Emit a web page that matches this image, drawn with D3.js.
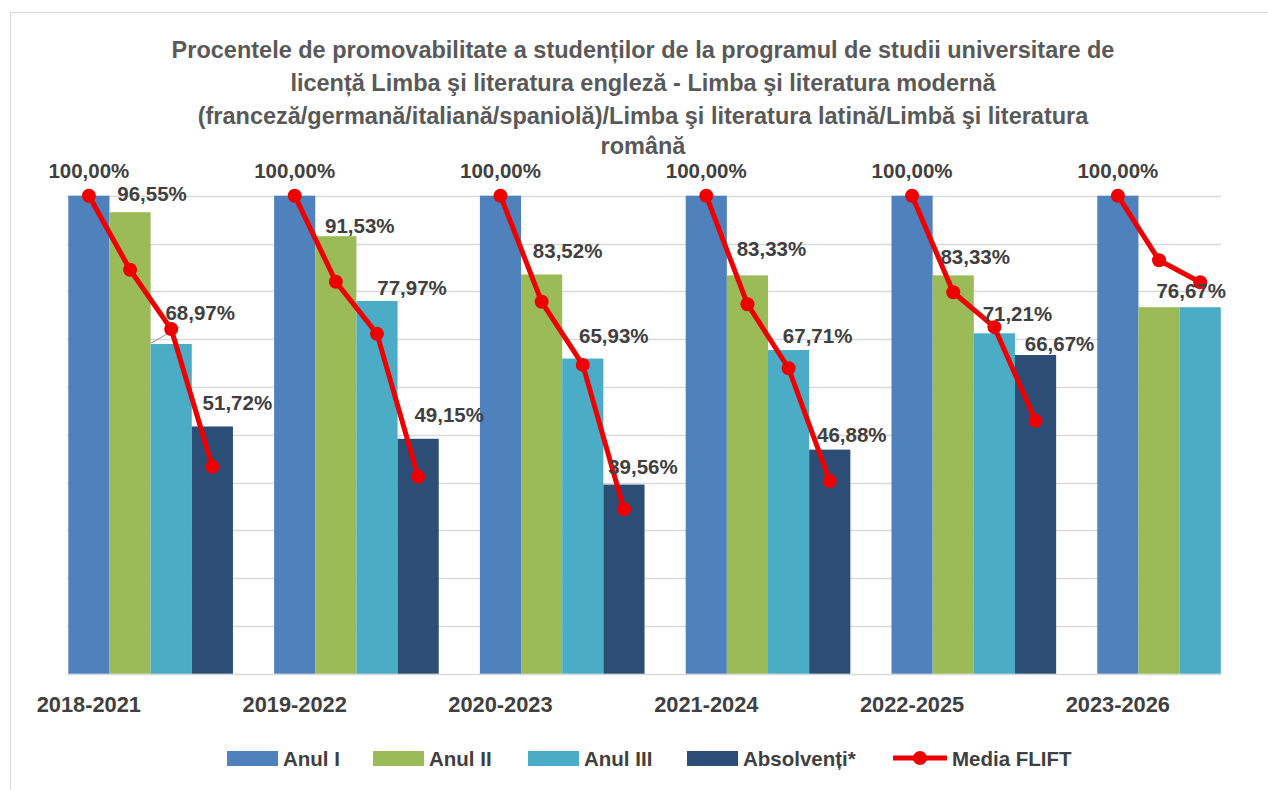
<!DOCTYPE html>
<html>
<head>
<meta charset="utf-8">
<script src="https://cdn.jsdelivr.net/npm/d3@7/dist/d3.min.js"></script>
<style>
  html, body { margin: 0; padding: 0; background: #fff; }
  svg { display: block; }
  text { font-family: "Liberation Sans", Arial, sans-serif; font-weight: bold; }
</style>
</head>
<body>
<svg id="chart" width="1268" height="790"></svg>
<script>
// ---------------- DATA ----------------
const titleLines = [
  "Procentele de promovabilitate a studenților de la programul de studii universitare de",
  "licență Limba şi literatura engleză - Limba şi literatura modernă",
  "(franceză/germană/italiană/spaniolă)/Limba şi literatura latină/Limbă şi literatura",
  "română"
];
const categories = ["2018-2021", "2019-2022", "2020-2023", "2021-2024", "2022-2025", "2023-2026"];
const seriesNames = ["Anul I", "Anul II", "Anul III", "Absolvenți*"];
const anulI      = [100, 100, 100, 100, 100, 100];
const anulII     = [96.55, 91.53, 83.52, 83.33, 83.33, 76.67];
const anulIII    = [68.97, 77.97, 65.93, 67.71, 71.21, 76.67];
const absolventi = [51.72, 49.15, 39.56, 46.88, 66.67, null];
const lineName   = "Media FLIFT";
const mediaFLIFT = [
  [100, 84.5, 72.1, 43.3],
  [100, 82.0, 71.1, 41.2],
  [100, 77.8, 64.6, 34.4],
  [100, 77.3, 63.9, 40.3],
  [100, 79.8, 72.5, 52.9],
  [100, 86.5, 81.9]
];
const yTicks = [0, 10, 20, 30, 40, 50, 60, 70, 80, 90, 100];

// ---------------- LAYOUT (label offsets from bar centre / top) ----------------
const labelDx = [
  [0, 0, 0, 0, 0, 0],
  [22, 24, 26, 24, 22, null],
  [29, 35, 31, 29, 23, -9],
  [25, 31, 19, 22, 24, null]
];
const labelDy = [
  [-25, -25, -25, -25, -25, -25],
  [-19, -11, -24, -27, -19, null],
  [-32, -14, -23, -15, -20, -17],
  [-24, -24, -18, -15, -12, null]
];
const colors = ["#4F81BD", "#9BBB59", "#4BACC6", "#2C4D75"];
const lineColor = "#EE0000";

const allSeries = [anulI, anulII, anulIII, absolventi];
const fmt = v => v.toFixed(2).replace(".", ",") + "%";

const svg = d3.select("#chart");

// chart border
svg.append("rect").attr("x", 10.5).attr("y", 12.5).attr("width", 1280).attr("height", 800)
  .attr("fill", "#fff").attr("stroke", "#d9d9d9").attr("stroke-width", 1);

// title
const titleY = [58, 91, 124, 154];
svg.append("g").selectAll("text").data(titleLines).join("text")
  .attr("x", 643).attr("y", (d, i) => titleY[i])
  .attr("text-anchor", "middle")
  .attr("font-size", 23.5)
  .attr("fill", "#595959")
  .text(d => d);

// scales
const plotLeft = 68.3, plotRight = 1221, plotBottom = 673.7, plotTop = 195.7;
const x0 = d3.scaleBand().domain(categories)
  .range([plotLeft, plotLeft + 205.8 * 5.8]).paddingInner(0.2).paddingOuter(0);
const x1 = d3.scaleBand().domain(d3.range(4)).range([0, x0.bandwidth()]).padding(0);
const y = d3.scaleLinear().domain([0, 100]).range([plotBottom, plotTop]);

// gridlines
svg.append("g").selectAll("line").data(yTicks).join("line")
  .attr("x1", plotLeft - 1).attr("x2", plotRight)
  .attr("y1", d => Math.round(y(d)) + 0.5).attr("y2", d => Math.round(y(d)) + 0.5)
  .attr("stroke", "#d9d9d9").attr("stroke-width", 1.6);

// bars
const barData = [];
allSeries.forEach((arr, s) => arr.forEach((v, c) => {
  if (v !== null) barData.push({ s, c, v });
}));
svg.append("g").selectAll("rect").data(barData).join("rect")
  .attr("x", d => x0(categories[d.c]) + x1(d.s))
  .attr("width", x1.bandwidth())
  .attr("y", d => y(d.v))
  .attr("height", d => y(0) - y(d.v))
  .attr("fill", d => colors[d.s]);

// category axis labels
svg.append("g").selectAll("text").data(categories).join("text")
  .attr("x", d => x0(d) + x1(0) + x1.bandwidth() / 2)
  .attr("y", 712)
  .attr("text-anchor", "middle")
  .attr("font-size", 21.8)
  .attr("fill", "#404040")
  .text(d => d);

// leader line for 68,97%
svg.append("line")
  .attr("x1", x0(categories[0]) + x1(2) + 0.5).attr("y1", y(anulIII[0]) - 1)
  .attr("x2", x0(categories[0]) + x1(2) + 29).attr("y2", y(anulIII[0]) - 17)
  .attr("stroke", "#a6a6a6").attr("stroke-width", 1.3);

// Media FLIFT lines
const lineGen = d3.line()
  .x(d => d.cx)
  .y(d => y(d.v));
const lineGroups = mediaFLIFT.map((vals, c) =>
  vals.map((v, s) => ({ cx: x0(categories[c]) + x1(s) + x1.bandwidth() / 2, v })));
const lg = svg.append("g");
lg.selectAll("path").data(lineGroups).join("path")
  .attr("d", lineGen)
  .attr("fill", "none").attr("stroke", lineColor).attr("stroke-width", 5)
  .attr("stroke-linejoin", "round");
lg.selectAll("circle").data(lineGroups.flat()).join("circle")
  .attr("cx", d => d.cx).attr("cy", d => y(d.v)).attr("r", 7)
  .attr("fill", lineColor);

// data labels
const labelData = barData.filter(d => labelDx[d.s][d.c] !== null);
svg.append("g").selectAll("text").data(labelData).join("text")
  .attr("x", d => x0(categories[d.c]) + x1(d.s) + x1.bandwidth() / 2 + labelDx[d.s][d.c])
  .attr("y", d => y(d.v) + labelDy[d.s][d.c] + 7.5)
  .attr("text-anchor", "middle")
  .attr("font-size", 20.5)
  .attr("fill", "#404040")
  .text(d => fmt(d.v));

// legend
const legendItems = [
  { name: seriesNames[0], type: "bar", color: colors[0], x: 227 },
  { name: seriesNames[1], type: "bar", color: colors[1], x: 373 },
  { name: seriesNames[2], type: "bar", color: colors[2], x: 528 },
  { name: seriesNames[3], type: "bar", color: colors[3], x: 687 },
  { name: lineName, type: "line", color: lineColor, x: 893 }
];
const leg = svg.append("g").selectAll("g").data(legendItems).join("g")
  .attr("transform", d => `translate(${d.x},758)`);
leg.filter(d => d.type === "bar").append("rect")
  .attr("x", 0).attr("y", -7).attr("width", 51).attr("height", 15)
  .attr("fill", d => d.color);
leg.filter(d => d.type === "line").append("line")
  .attr("x1", 0).attr("x2", 54).attr("y1", 0).attr("y2", 0)
  .attr("stroke", d => d.color).attr("stroke-width", 5);
leg.filter(d => d.type === "line").append("circle")
  .attr("cx", 27).attr("cy", 0).attr("r", 7).attr("fill", d => d.color);
leg.append("text")
  .attr("x", d => d.type === "line" ? 59 : 56)
  .attr("y", 7.5)
  .attr("font-size", 20.5)
  .attr("fill", "#404040")
  .text(d => d.name);
</script>
</body>
</html>
